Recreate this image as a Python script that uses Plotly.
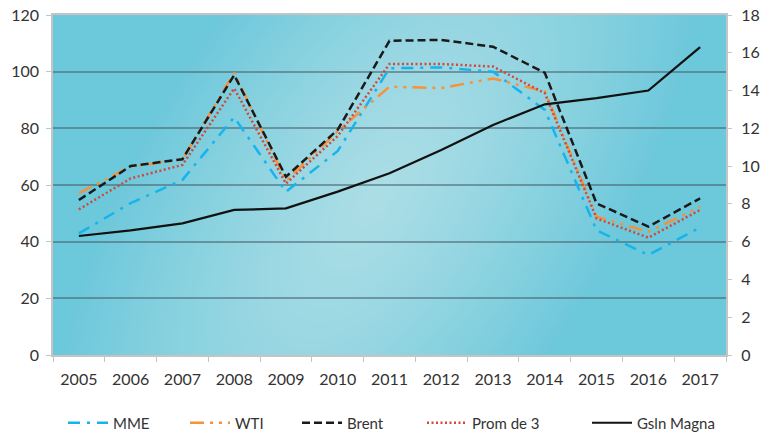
import base64
import struct
import zlib

import numpy as np
import plotly.graph_objects as go

# ---- data ---------------------------------------------------------------
years = ["2005", "2006", "2007", "2008", "2009", "2010", "2011",
         "2012", "2013", "2014", "2015", "2016", "2017"]

mme = [42.9, 53.6, 61.8, 83.9, 57.6, 72.0, 101.2, 101.5, 100.0, 86.5, 44.0, 35.3, 45.0]
wti = [57.1, 66.5, 69.0, 99.6, 61.5, 79.0, 94.7, 94.2, 97.6, 93.0, 48.8, 43.5, 52.3]
brent = [54.7, 66.7, 69.1, 98.8, 62.9, 79.5, 110.9, 111.2, 108.8, 99.6, 53.5, 45.3, 55.3]
prom_de_3 = [51.4, 62.3, 67.1, 94.1, 60.5, 77.3, 102.7, 102.7, 101.8, 92.4, 48.2, 41.4, 51.2]
gsln_magna = [6.3, 6.6, 6.97, 7.68, 7.76, 8.65, 9.62, 10.85, 12.18, 13.27, 13.6, 14.0, 16.3]

left_ticks = [0, 20, 40, 60, 80, 100, 120]
right_ticks = [0, 2, 4, 6, 8, 10, 12, 14, 16, 18]

# ---- page geometry --------------------------------------------------------
W, H = 762, 436
M_L, M_R, M_T, M_B = 53, 36, 15, 81
PW, PH = W - M_L - M_R, H - M_T - M_B

FONT = "Lato"
TXT = "#333333"


def png_data_uri(rgb):
    """Encode an HxWx3 uint8 array as a PNG data URI."""
    h, w, _ = rgb.shape
    raw = b"".join(b"\x00" + rgb[i].tobytes() for i in range(h))

    def chunk(tag, data):
        body = tag + data
        return struct.pack(">I", len(data)) + body + struct.pack(">I", zlib.crc32(body) & 0xFFFFFFFF)

    png = (b"\x89PNG\r\n\x1a\n"
           + chunk(b"IHDR", struct.pack(">IIBBBBB", w, h, 8, 2, 0, 0, 0))
           + chunk(b"IDAT", zlib.compress(raw, 9))
           + chunk(b"IEND", b""))
    return "data:image/png;base64," + base64.b64encode(png).decode()


def plot_gradient(w, h):
    """Teal fill, lighter in a tilted band through the middle of the plot area."""
    yy, xx = np.mgrid[0:h, 0:w].astype(float)
    cx, cy = 0.48 * w, 0.53 * h
    u = (xx - cx) + 0.45 * (yy - cy)
    v = yy - cy
    d = np.sqrt((u / (0.40 * w)) ** 2 + (v / (1.25 * h)) ** 2)
    t = np.clip(d, 0, 1) ** 1.2
    light = np.array([172, 222, 230], float)
    dark = np.array([108, 200, 219], float)
    img = light[None, None, :] * (1 - t[..., None]) + dark[None, None, :] * t[..., None]
    return np.clip(img, 0, 255).astype(np.uint8)


fig = go.Figure()

series = [
    ("MME", mme, dict(color="#16b4ec", width=2.5, dash="12px,7px,3px,7px"), "legend"),
    ("WTI", wti, dict(color="#f7923a", width=2.5, dash="14px,6px,3px,6px,3px,6px"), "legend2"),
    ("Brent", brent, dict(color="#1a1a1a", width=2.5, dash="8px,4px"), "legend3"),
    ("Prom de 3", prom_de_3, dict(color="#cf4a3c", width=2.5, dash="2px,2.5px"), "legend4"),
]
for name, vals, line, leg in series:
    fig.add_trace(go.Scatter(x=years, y=vals, name=name, mode="lines",
                             line=line, legend=leg, yaxis="y", showlegend=True))

fig.add_trace(go.Scatter(x=years, y=gsln_magna, name="Gsln Magna", mode="lines",
                         line=dict(color="#111111", width=2.2), legend="legend5",
                         yaxis="y2", showlegend=True))

axis_line = "#c4c4c4"
tick_font = dict(family=FONT, size=16, color=TXT)
fig.update_layout(
    width=W, height=H, autosize=False,
    margin=dict(l=M_L, r=M_R, t=M_T, b=M_B, autoexpand=False),
    paper_bgcolor="white",
    plot_bgcolor="rgba(0,0,0,0)",
    font=dict(family=FONT, size=15, color=TXT),
    showlegend=True,
    xaxis=dict(
        type="category", range=[-0.5, len(years) - 0.5], tickson="boundaries",
        ticks="outside", ticklen=5, automargin=False,
        tickcolor=axis_line, showline=True, linecolor=axis_line, linewidth=1.5,
        mirror=True, showgrid=False, ticklabelstandoff=9,
        tickfont=tick_font,
    ),
    yaxis=dict(
        range=[0, 120], tickvals=left_ticks, ticks="outside", ticklen=5,
        automargin=False,
        tickcolor=axis_line, showline=True, linecolor=axis_line, linewidth=1.5,
        mirror=True, showgrid=True, gridcolor="rgba(70,95,105,0.55)", gridwidth=1.6,
        zeroline=False, ticklabelstandoff=4,
        tickfont=tick_font,
    ),
    yaxis2=dict(
        range=[0, 18], tickvals=right_ticks, overlaying="y", side="right",
        ticks="outside", ticklen=5, tickcolor=axis_line, showgrid=False,
        zeroline=False, ticklabelstandoff=6, automargin=False,
        tickfont=tick_font,
    ),
    images=[dict(
        source=png_data_uri(plot_gradient(PW // 2, PH // 2)),
        xref="paper", yref="paper", x=0, y=1, sizex=1, sizey=1,
        sizing="stretch", layer="below", xanchor="left", yanchor="top",
    )],
)

# one legend box per series, spread along the bottom (pixel positions of the page)
legend_px = [63, 185, 297, 422, 587]
legend_keys = ["legend", "legend2", "legend3", "legend4", "legend5"]
for key, px in zip(legend_keys, legend_px):
    fig.update_layout({key: dict(
        xref="container", yref="container",
        x=px / W, y=1 - 423 / H, xanchor="left", yanchor="middle", orientation="h",
        bgcolor="rgba(0,0,0,0)", borderwidth=0, itemwidth=40,
        font=dict(family=FONT, size=15, color=TXT),
    )})

fig.write_html("out.html")
